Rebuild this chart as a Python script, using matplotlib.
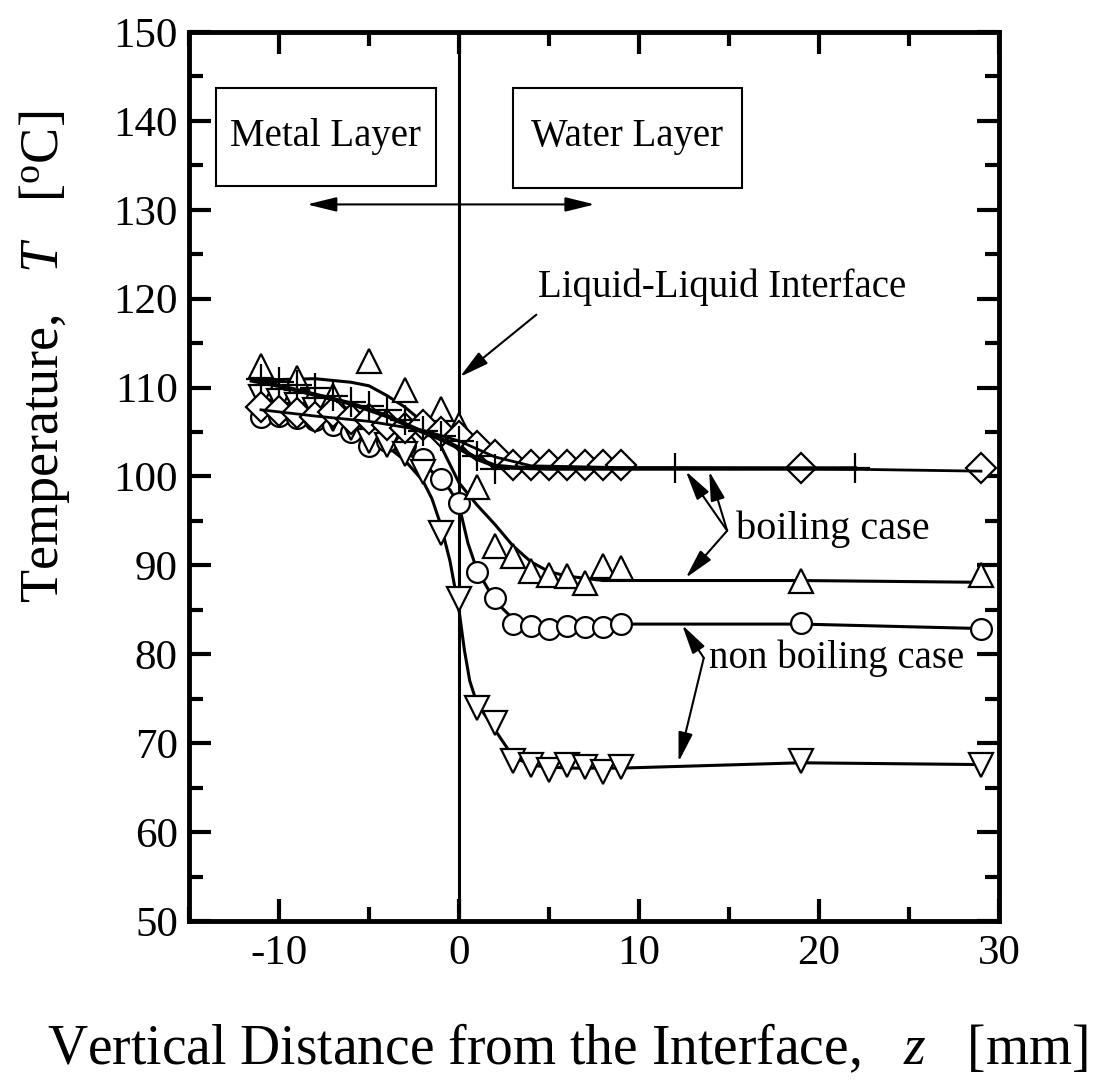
import matplotlib
matplotlib.use("Agg")
import matplotlib.pyplot as plt
from matplotlib.patches import Rectangle
from matplotlib.ticker import MultipleLocator

plt.rcParams['font.family'] = ['Liberation Serif', 'DejaVu Serif']
plt.rcParams['mathtext.fontset'] = 'custom'
plt.rcParams['mathtext.rm'] = 'Liberation Serif'
plt.rcParams['mathtext.it'] = 'Liberation Serif:italic'
plt.rcParams['axes.unicode_minus'] = False

# measured points (z in mm, T in degC)
z_dia = [-11, -10, -9, -8, -7, -6, -5, -4, -3, -2, -1, 0, 1, 2, 3, 4, 5, 6, 7, 8, 9, 19, 29]
T_dia = [107.8, 107.4, 107.1, 106.7, 107.2, 106.5, 106.5, 105.8, 105.4, 105.8, 105.0, 104.6,
         103.4, 102.4, 101.3, 101.3, 101.3, 101.3, 101.3, 101.3, 101.3, 101.0, 101.0]

z_plus = [-11, -10, -9, -8, -7, -6, -5, -4, -3, -2, -1, 0, 1, 2, 12, 22]
T_plus = [111.0, 110.6, 110.3, 109.9, 109.0, 108.4, 107.9, 107.5, 106.4, 105.1, 104.5, 104.0,
          102.3, 100.8, 101.0, 101.0]

z_up = [-11, -9, -7, -5, -3, -1, 0, 1, 2, 3, 4, 5, 6, 7, 8, 9, 19, 29]
T_up = [112.4, 111.1, 109.1, 113.0, 109.7, 107.6, 105.8, 98.8, 92.2, 91.1, 89.4, 88.9, 88.8,
        88.0, 89.9, 89.7, 88.3, 88.9]

z_circ = [-11, -10, -9, -8, -7, -6, -5, -4, -3, -2, -1, 0, 1, 2, 3, 4, 5, 6, 7, 8, 9, 19, 29]
T_circ = [106.7, 106.8, 106.6, 106.3, 105.8, 105.0, 103.4, 104.0, 103.5, 102.0, 99.7, 97.0,
          89.3, 86.3, 83.4, 83.2, 82.8, 83.2, 83.1, 83.1, 83.4, 83.5, 82.8]

z_down = [-11, -10, -9, -8, -7, -6, -5, -4, -3, -2, -1, 0, 1, 2, 3, 4, 5, 6, 7, 8, 9, 19, 29]
T_down = [108.9, 108.5, 108.0, 107.5, 106.5, 105.5, 104.0, 103.5, 102.5, 100.5, 93.7, 86.2,
          74.0, 72.3, 68.0, 67.5, 67.0, 67.5, 67.3, 66.8, 67.3, 68.0, 67.6]

# fitted curves drawn through the data
zf_up = [-11.5, -10, -8, -6, -5, -4, -3, -2, -1, 0, 1, 2, 3, 4, 5, 6, 8, 10, 19, 29]
Tf_up = [110.8, 110.9, 111.0, 110.6, 110.2, 109.1, 107.8, 106.1, 103.4, 99.3, 96.8, 94.6,
         92.2, 90.4, 89.3, 88.8, 88.3, 88.3, 88.3, 88.1]

zf_plus = [-11.5, -10, -8, -6, -4, -2, -1, 0, 1, 2, 3, 5, 10, 22]
Tf_plus = [110.8, 110.2, 109.2, 108.2, 106.8, 105.0, 104.2, 103.2, 102.0, 101.2, 101.0,
           100.9, 100.9, 100.9]

zf_dia = [-11, -8, -5, -2, 0, 2, 4, 9, 19, 29]
Tf_dia = [107.5, 106.8, 106.2, 105.2, 104.0, 102.2, 101.2, 101.0, 100.9, 100.6]

zf_circ = [-11, -9, -7, -5, -3, -2, -1, -0.5, 0, 0.5, 1, 2, 3, 5, 9, 19, 29]
Tf_circ = [106.5, 106.2, 105.5, 104.3, 102.8, 101.5, 99.6, 98.5, 96.8, 92.5, 89.5, 86.0,
           84.0, 83.4, 83.4, 83.4, 82.9]

zf_down = [-11, -9, -7, -5, -4, -3, -2, -1.5, -1, -0.5, 0, 0.3, 0.6, 1, 2, 3, 4, 6, 9, 19, 29]
Tf_down = [108.8, 108.0, 106.5, 104.6, 103.4, 101.8, 99.5, 97.5, 94.5, 90.5, 85.0, 80.5,
           77.0, 74.5, 71.5, 68.5, 67.5, 67.2, 67.2, 67.8, 67.6]

x_ticks = [-10, 0, 10, 20, 30]
y_ticks = [50, 60, 70, 80, 90, 100, 110, 120, 130, 140, 150]

fig = plt.figure(figsize=(10.98, 10.90), dpi=100)
ax = fig.add_axes([0.1721, 0.1550, 0.7377, 0.8157])

mk = dict(linestyle='none', markerfacecolor='white', markeredgecolor='black',
          markeredgewidth=1.6, zorder=4)

ax.plot(zf_circ, Tf_circ, color='black', lw=2.2, zorder=3)
ax.plot(zf_down, Tf_down, color='black', lw=2.2, zorder=3)
ax.plot(zf_up, Tf_up, color='black', lw=2.2, zorder=3)

ax.plot(z_circ, T_circ, marker='o', markersize=15, **mk)
ax.plot(z_down, T_down, marker='v', markersize=17, **mk)
ax.plot(z_up, T_up, marker='^', markersize=17, **mk)
ax.plot(z_dia, T_dia, marker='D', markersize=15, **mk)
ax.plot(z_plus, T_plus, marker='+', markersize=22, color='black', markeredgewidth=1.6,
        linestyle='none', zorder=6)

ax.plot(zf_dia, Tf_dia, color='black', lw=2.0, zorder=5)
ax.plot(zf_plus, Tf_plus, color='black', lw=3.2, zorder=5)

# interface line
ax.axvline(0, color='black', lw=2.2, zorder=2)

ax.set_xlim(-15, 30)
ax.set_ylim(50, 150)
ax.set_xticks(x_ticks)
ax.set_yticks(y_ticks)
ax.xaxis.set_minor_locator(MultipleLocator(5))
ax.yaxis.set_minor_locator(MultipleLocator(5))
ax.tick_params(which='both', direction='in', top=True, right=True, width=3,
               labelsize=31)
ax.tick_params(which='major', length=16)
ax.tick_params(which='minor', length=10)
ax.tick_params(axis='x', pad=10)
ax.tick_params(axis='y', pad=8)
for s in ax.spines.values():
    s.set_linewidth(3.5)

ax.set_xlabel('Vertical Distance from the Interface,   $z$   [mm]', fontsize=40, labelpad=24)
ax.xaxis.set_label_coords(0.467, -0.115)
ax.set_ylabel('Temperature,   $T$   [$^{\\rm o}$C]', fontsize=39, labelpad=16)
ax.yaxis.set_label_coords(-0.145, 0.635)

# layer boxes
ax.add_patch(Rectangle((-13.5, 132.7), 12.25, 11.0, fill=False, lw=1.5, zorder=5))
ax.add_patch(Rectangle((3.0, 132.5), 12.7, 11.2, fill=False, lw=1.5, zorder=5))
ax.text(-7.4, 138.2, 'Metal Layer', fontsize=28, ha='center', va='center')
ax.text(9.35, 138.2, 'Water Layer', fontsize=28, ha='center', va='center')
ax.annotate('', xy=(-8.6, 130.6), xytext=(7.7, 130.6),
            arrowprops=dict(arrowstyle='<|-|>,head_length=0.9,head_width=0.22',
                            lw=1.5, color='black', mutation_scale=20))

arw = dict(arrowstyle='-|>,head_length=0.9,head_width=0.22', lw=1.5, color='black',
           mutation_scale=20, shrinkA=0, shrinkB=0)
ax.text(4.4, 121.3, 'Liquid-Liquid Interface', fontsize=28, ha='left', va='center')
ax.annotate('', xy=(0.05, 111.2), xytext=(4.3, 118.2), arrowprops=arw)

ax.text(15.4, 94.1, 'boiling case', fontsize=29, ha='left', va='center')
for hx, hy in [(12.6, 100.6), (13.9, 100.6), (12.6, 88.6)]:
    ax.annotate('', xy=(hx, hy), xytext=(14.9, 93.9), arrowprops=arw)

ax.text(13.9, 79.6, 'non boiling case', fontsize=28, ha='left', va='center')
for hx, hy in [(12.4, 83.3), (12.2, 67.9)]:
    ax.annotate('', xy=(hx, hy), xytext=(13.6, 79.6), arrowprops=arw)

fig.savefig('out.png', dpi=100)
